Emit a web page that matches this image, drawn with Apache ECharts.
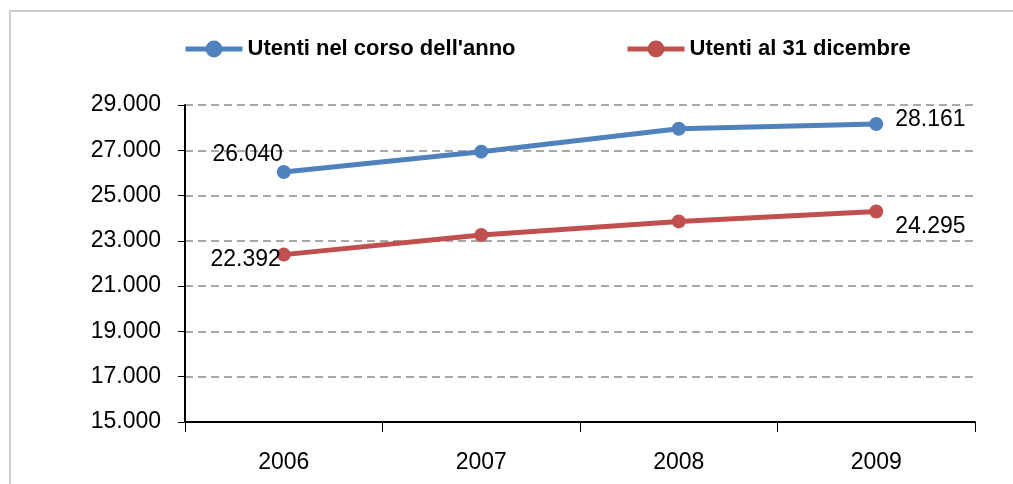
<!DOCTYPE html>
<html>
<head>
<meta charset="utf-8">
<script src="https://cdn.jsdelivr.net/npm/echarts@6/dist/echarts.min.js"></script>
<style>
  html, body { margin: 0; padding: 0; background: #fff; }
  .frame {
    position: absolute; left: 9px; top: 10px; width: 1100px; height: 600px;
    border: 2px solid #cfcfcf; box-sizing: border-box;
  }
  #chart { position: absolute; left: 0; top: 0; width: 1013px; height: 484px; }
</style>
</head>
<body>
<div class="frame"></div>
<div id="chart"></div>
<script>
const anni = ['2006', '2007', '2008', '2009']
const utentiAnno = [26040, 26940, 27950, 28161]
const utenti31Dic = [22392, 23260, 23860, 24295]
const nomiSerie = ["Utenti nel corso dell'anno", 'Utenti al 31 dicembre']

const FONT = '"Liberation Sans", Arial, sans-serif'

// separatore delle migliaia all'italiana
function fmt(v) {
  return String(v).replace(/\B(?=(\d{3})+(?!\d))/g, '.')
}

// etichette solo sul primo e sull'ultimo punto
function withLabels(values, first, last) {
  return values.map((v, i) => {
    if (i === 0) return { value: v, label: Object.assign({ show: true }, first) }
    if (i === values.length - 1) return { value: v, label: Object.assign({ show: true }, last) }
    return v
  })
}

const labelBase = {
  color: '#000',
  fontSize: 23,
  fontFamily: FONT,
  formatter: p => fmt(p.value)
}

// una legenda per voce, così le posizioni seguono il riferimento
function legendAt(left, name) {
  return {
    left: left,
    top: 33,
    itemWidth: 57,
    itemHeight: 21,
    lineStyle: { width: 5 },
    textStyle: { fontSize: 22, fontWeight: 'bold', color: '#000', fontFamily: FONT },
    data: [name]
  }
}

const chart = echarts.init(document.getElementById('chart'))
chart.setOption({
  animation: false,
  color: ['#4F81BD', '#C0504D'],
  legend: [legendAt(178, nomiSerie[0]), legendAt(620, nomiSerie[1])],
  grid: { left: 185, right: 38, top: 105, bottom: 62 },
  xAxis: {
    type: 'category',
    data: anni,
    boundaryGap: true,
    axisLine: { lineStyle: { color: '#000', width: 2 } },
    axisTick: { show: true, length: 10, lineStyle: { color: '#000', width: 1 } },
    axisLabel: { color: '#000', fontSize: 23, fontFamily: FONT, margin: 29 }
  },
  yAxis: {
    type: 'value',
    min: 15000,
    max: 29000,
    interval: 2000,
    axisLine: { show: true, lineStyle: { color: '#000', width: 2 } },
    axisTick: { show: true, length: 7, lineStyle: { color: '#000', width: 1 } },
    axisLabel: { color: '#000', fontSize: 23, fontFamily: FONT, margin: 24, formatter: fmt },
    splitLine: { show: true, lineStyle: { color: '#8c8c8c', width: 1.5, type: [8, 5] } }
  },
  series: [
    {
      name: nomiSerie[0],
      type: 'line',
      symbol: 'circle',
      symbolSize: 14,
      lineStyle: { width: 5 },
      data: withLabels(utentiAnno,
        Object.assign({}, labelBase, { position: 'left', distance: 0, offset: [6, -17] }),
        Object.assign({}, labelBase, { position: 'right', distance: 0, offset: [12, -4] }))
    },
    {
      name: nomiSerie[1],
      type: 'line',
      symbol: 'circle',
      symbolSize: 14,
      lineStyle: { width: 5 },
      data: withLabels(utenti31Dic,
        Object.assign({}, labelBase, { position: 'left', distance: 0, offset: [4, 5] }),
        Object.assign({}, labelBase, { position: 'right', distance: 0, offset: [12, 15] }))
    }
  ]
})
</script>
</body>
</html>
